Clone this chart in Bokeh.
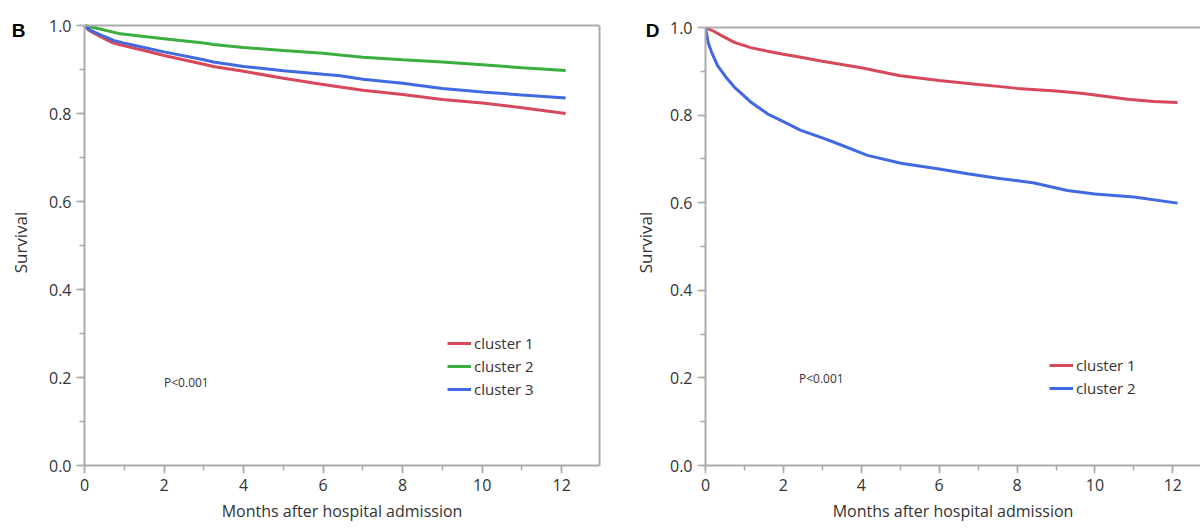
import math
from bokeh.plotting import figure
from bokeh.layouts import row
from bokeh.models import (Range1d, SingleIntervalTicker, FixedTicker, PrintfTickFormatter, Legend,
                          LegendItem, Label, Span, LinearAxis)
from bokeh.core.properties import value
from bokeh.embed import file_html
from bokeh.resources import INLINE

# ---------------- data ----------------
# Panel B
b_c1_t = [0, 0.1, 0.25, 0.5, 0.73, 1, 1.5, 2, 3, 3.24, 4, 5, 6, 6.43, 7, 8, 9, 10, 11, 12.1]
b_c1_s = [1.0, 0.99, 0.982, 0.970, 0.960, 0.954, 0.943, 0.932, 0.912, 0.907, 0.896, 0.880, 0.866, 0.860, 0.853, 0.843, 0.832, 0.824, 0.813, 0.800]
b_c2_t = [0, 0.39, 0.9, 1.5, 2, 3, 3.24, 4, 5, 6, 6.43, 7, 8, 9, 10, 11, 12.1]
b_c2_s = [1.0, 0.992, 0.981, 0.975, 0.970, 0.960, 0.957, 0.950, 0.943, 0.937, 0.933, 0.928, 0.922, 0.917, 0.911, 0.904, 0.898]
b_c3_t = [0, 0.1, 0.25, 0.5, 0.73, 1, 1.5, 2, 3, 3.24, 4, 5, 6, 6.43, 7, 8, 9, 10, 11, 12.1]
b_c3_s = [1.0, 0.992, 0.985, 0.975, 0.966, 0.960, 0.950, 0.940, 0.922, 0.917, 0.907, 0.897, 0.889, 0.886, 0.878, 0.869, 0.857, 0.849, 0.842, 0.835]

# Panel D
d_c1_t = [0, 0.2, 0.4, 0.74, 1.16, 1.59, 2, 2.45, 3, 4, 5, 6, 7, 7.58, 8, 9, 9.64, 10, 10.84, 11.5, 12.12]
d_c1_s = [1.0, 0.992, 0.982, 0.966, 0.954, 0.946, 0.939, 0.932, 0.923, 0.908, 0.890, 0.879, 0.870, 0.865, 0.861, 0.855, 0.850, 0.846, 0.836, 0.831, 0.829]
d_c2_t = [0, 0.03, 0.07, 0.15, 0.31, 0.52, 0.74, 1.16, 1.59, 2.0, 2.45, 3.0, 3.3, 4.16, 5.02, 6.0, 6.73, 7.5, 8.44, 9.29, 10.0, 11.0, 12.12]
d_c2_s = [1.0, 0.985, 0.965, 0.945, 0.913, 0.887, 0.864, 0.830, 0.803, 0.785, 0.765, 0.748, 0.738, 0.708, 0.690, 0.677, 0.666, 0.656, 0.645, 0.628, 0.620, 0.613, 0.599]

panel_letters = ["B", "D"]
y_title = "Survival"
x_title = "Months after hospital admission"
p_text = "P<0.001"

RED = "#d8475a"
GREEN = "#3cae3f"
BLUE = "#4169e1"
GREY = "#ababab"
TXT = "#333333"
FONT = "Open Sans"

TOP = 15        # frame top (all figures in the row share it)
BOTTOM = 67     # space below frame
H = 532


def side_strip(width, letter, letter_x, title_x):
    """Narrow strip left of a panel holding the panel letter and the y-axis title."""
    s = figure(width=width, height=H, output_backend="svg", toolbar_location=None,
               x_range=Range1d(0, width), y_range=Range1d(H - BOTTOM, TOP),
               x_axis_type=None, y_axis_type=None,
               min_border_left=0, min_border_right=0, min_border_top=TOP, min_border_bottom=BOTTOM)
    s.outline_line_color = None
    s.xgrid.visible = False
    s.ygrid.visible = False
    s.background_fill_color = "white"
    s.border_fill_color = "white"
    s.text(x=[letter_x], y=[30], text=[letter], text_font=value("Liberation Sans"),
           text_font_size="19px", text_font_style="bold", text_color="black",
           text_align="center", text_baseline="middle")
    s.text(x=[title_x], y=[242], text=[y_title], angle=math.pi / 2, text_font=value(FONT),
           text_font_size="17px", text_color=TXT, text_align="center", text_baseline="middle")
    return s


def style(p):
    p.background_fill_color = "white"
    p.border_fill_color = "white"
    p.outline_line_color = None
    p.xgrid.visible = False
    p.ygrid.visible = False
    for ax in (p.xaxis, p.yaxis):
        ax.axis_line_color = GREY
        ax.axis_line_width = 2
        ax.major_tick_line_color = GREY
        ax.minor_tick_line_color = GREY
        ax.major_tick_line_width = 1.5
        ax.minor_tick_line_width = 1.5
        ax.major_tick_out = 8
        ax.major_tick_in = 0
        ax.minor_tick_out = 5
        ax.minor_tick_in = 0
        ax.major_label_text_font = FONT
        ax.major_label_text_font_size = "16px"
        ax.major_label_text_color = TXT
        ax.axis_label_text_font = FONT
        ax.axis_label_text_font_style = "normal"
        ax.axis_label_text_color = TXT
    p.xaxis.ticker = SingleIntervalTicker(interval=2, num_minor_ticks=2)
    p.yaxis.ticker = SingleIntervalTicker(interval=0.2, num_minor_ticks=2)
    p.yaxis.bounds = (0, 1)
    p.yaxis.formatter = PrintfTickFormatter(format="%.1f")
    p.xaxis.axis_label = x_title
    p.xaxis.axis_label_text_font_size = "16px"
    p.xaxis.major_label_standoff = 5
    p.xaxis.axis_label_standoff = 6
    p.yaxis.major_label_standoff = 5
    # top border of the plot box, at survival = 1.0
    p.add_layout(Span(location=1.0, dimension="width", line_color=GREY, line_width=2))


# ---------------- Panel B ----------------
sB = side_strip(36, panel_letters[0], 18, 20)
p1 = figure(width=566, height=H, output_backend="svg", toolbar_location=None,
            x_range=Range1d(0, 12.95), y_range=Range1d(0, 450 / 440),
            min_border_left=48, min_border_right=3, min_border_top=TOP, min_border_bottom=BOTTOM)
style(p1)
right_border = LinearAxis(ticker=FixedTicker(ticks=[]), bounds=(0, 1), axis_line_color=GREY,
                          axis_line_width=2, major_tick_line_color=None, minor_tick_line_color=None,
                          major_label_text_font_size="0px")
p1.add_layout(right_border, "right")

r11 = p1.line(b_c1_t, b_c1_s, line_color=RED, line_width=3)
r12 = p1.line(b_c2_t, b_c2_s, line_color=GREEN, line_width=3)
r13 = p1.line(b_c3_t, b_c3_s, line_color=BLUE, line_width=3)

leg1 = Legend(items=[LegendItem(label="cluster 1", renderers=[r11]),
                     LegendItem(label="cluster 2", renderers=[r12]),
                     LegendItem(label="cluster 3", renderers=[r13])],
              location=(363, 66), padding=0, margin=0, spacing=3,
              glyph_width=24, glyph_height=20, label_height=20, label_standoff=3,
              label_text_font=FONT, label_text_font_size="15px", label_text_color=TXT,
              border_line_color=None, background_fill_alpha=0)
p1.add_layout(leg1)
p1.add_layout(Label(x=2.0, y=0.189, text=p_text, text_font=FONT, text_font_size="12px",
                    text_color=TXT, text_baseline="middle"))

# ---------------- Panel D ----------------
sD = side_strip(60, panel_letters[1], 50, 43)
p2 = figure(width=538, height=H, output_backend="svg", toolbar_location=None,
            x_range=Range1d(0, 12.71), y_range=Range1d(0, 450 / 438),
            min_border_left=43, min_border_right=0, min_border_top=TOP, min_border_bottom=BOTTOM)
style(p2)

r21 = p2.line(d_c1_t, d_c1_s, line_color=RED, line_width=3)
r22 = p2.line(d_c2_t, d_c2_s, line_color=BLUE, line_width=3)

leg2 = Legend(items=[LegendItem(label="cluster 1", renderers=[r21]),
                     LegendItem(label="cluster 2", renderers=[r22])],
              location=(344, 67), padding=0, margin=0, spacing=3,
              glyph_width=24, glyph_height=18, label_height=18, label_standoff=3,
              label_text_font=FONT, label_text_font_size="15px", label_text_color=TXT,
              border_line_color=None, background_fill_alpha=0)
p2.add_layout(leg2)
p2.add_layout(Label(x=2.4, y=0.199, text=p_text, text_font=FONT, text_font_size="12px",
                    text_color=TXT, text_baseline="middle"))

layout = row(sB, p1, sD, p2)
open("out.html", "w").write(file_html(layout, INLINE))
